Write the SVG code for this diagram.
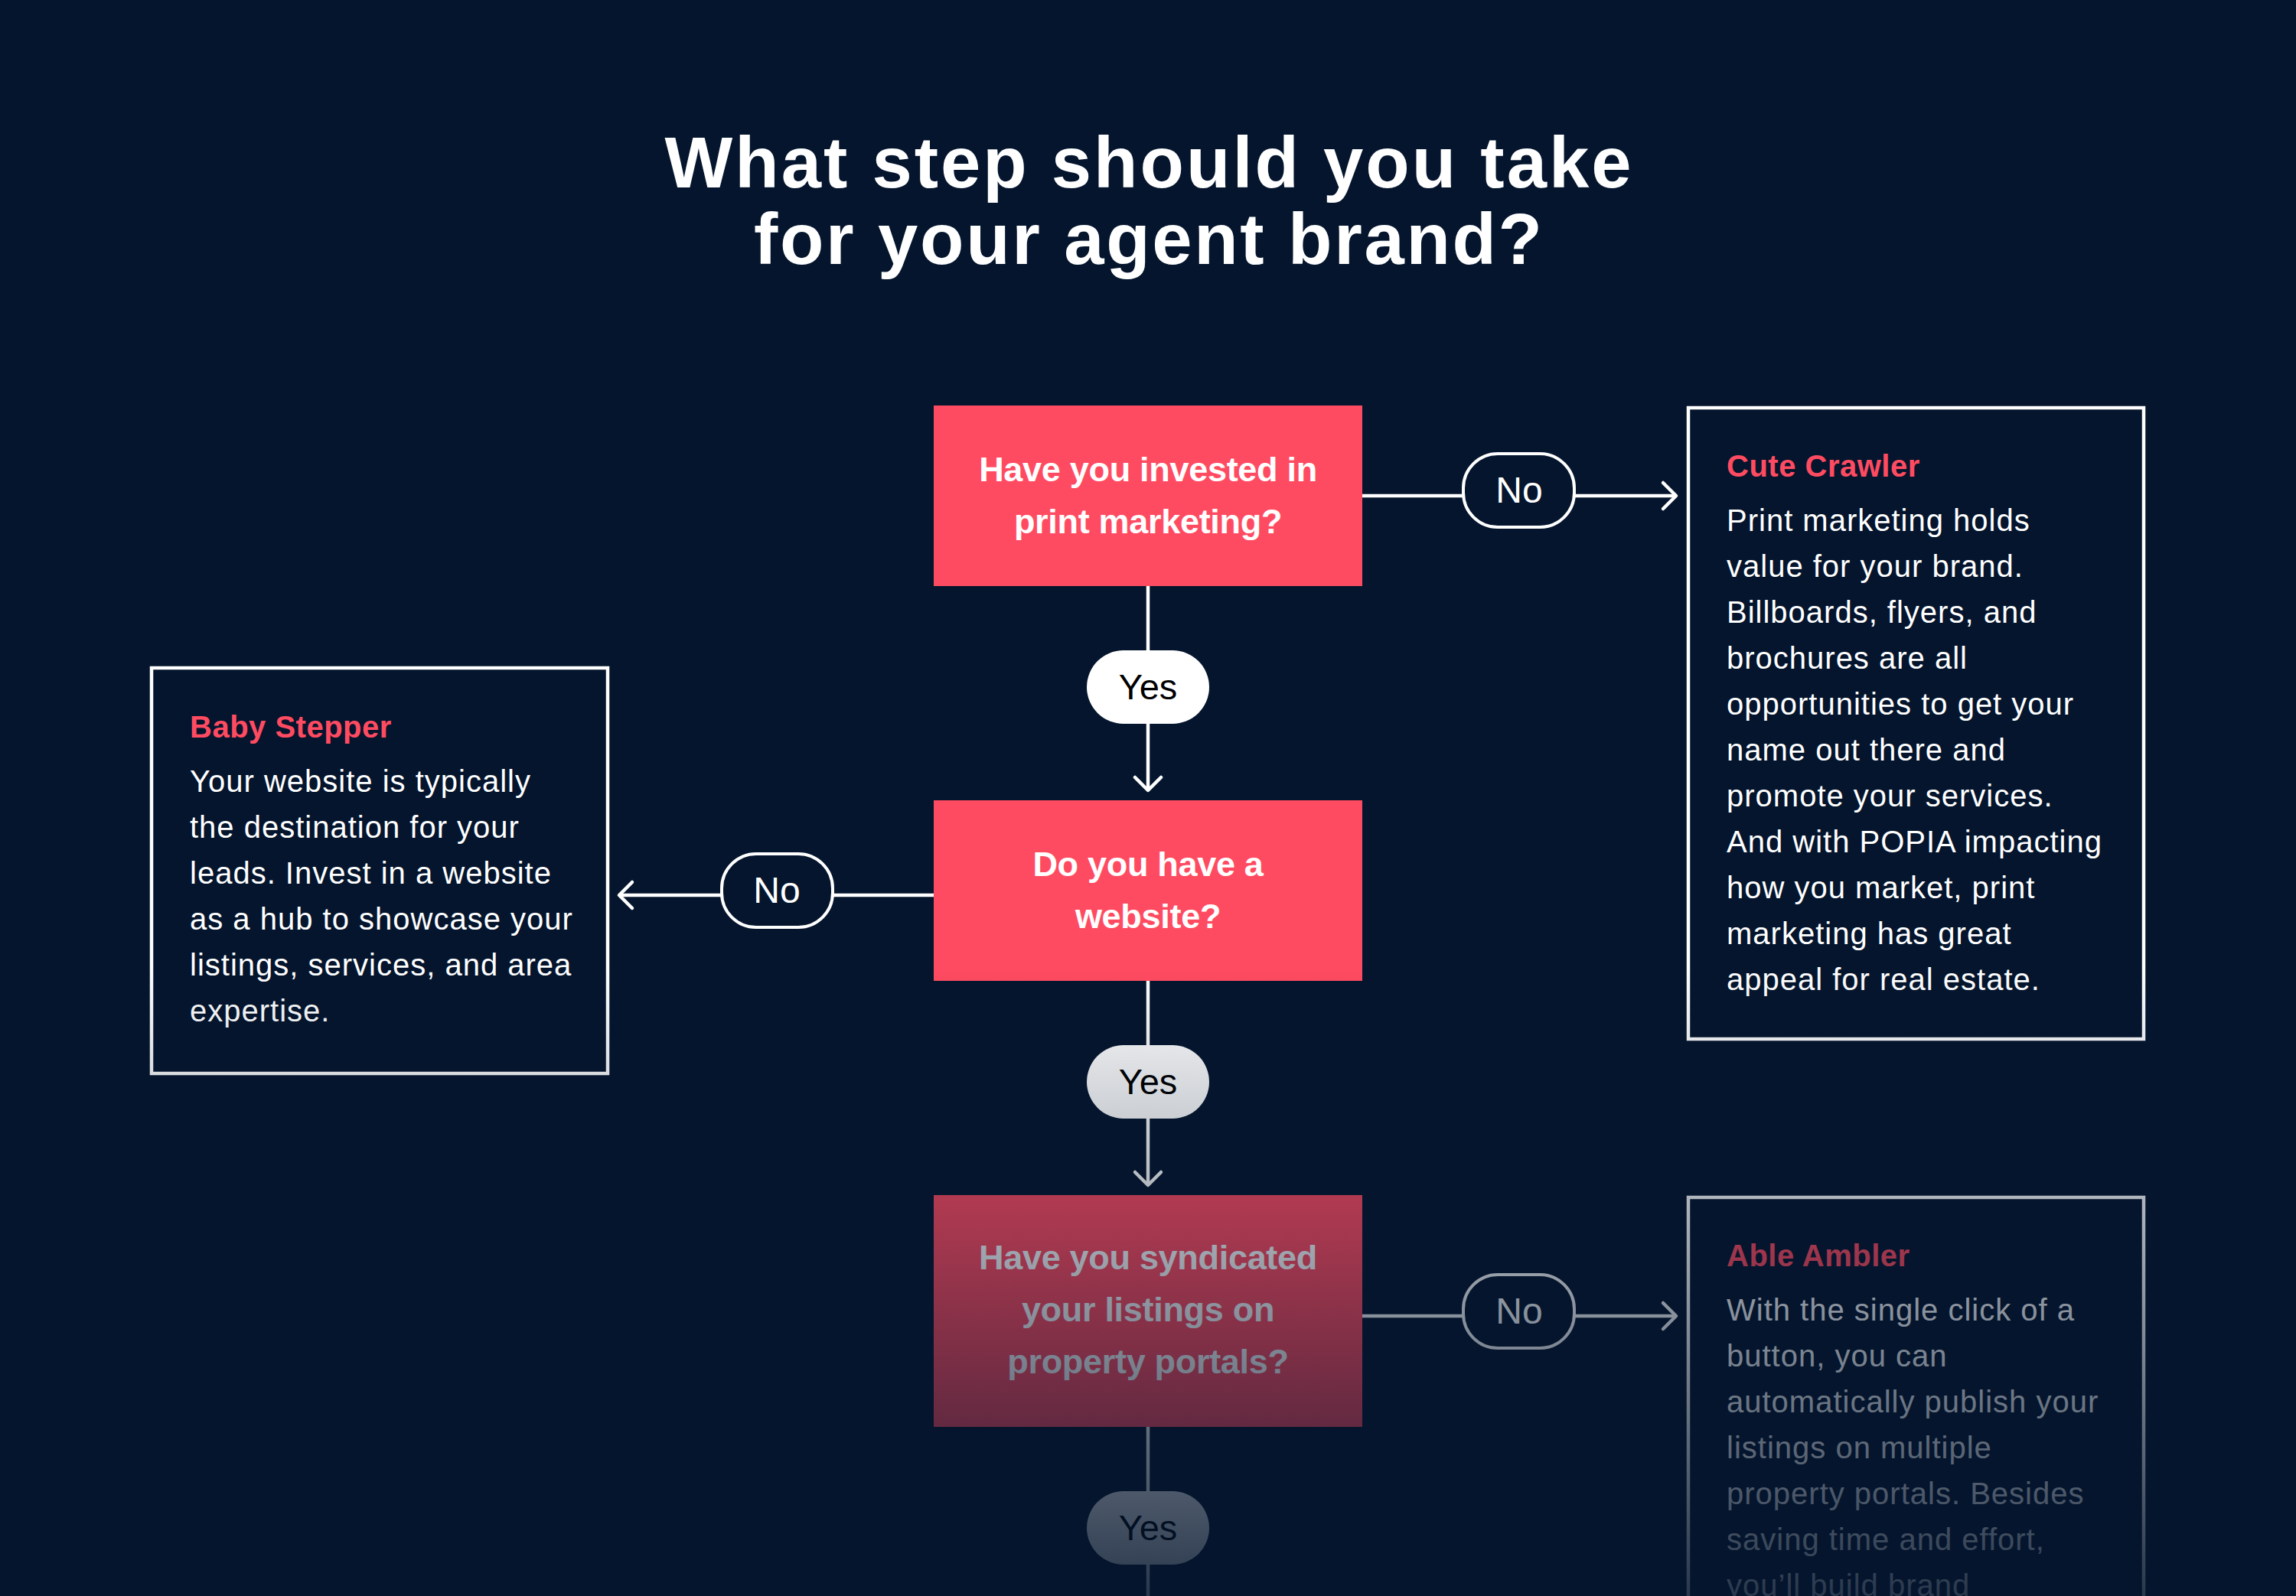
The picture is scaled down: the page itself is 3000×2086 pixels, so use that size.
<svg xmlns="http://www.w3.org/2000/svg" width="3000" height="2086" viewBox="0 0 3000 2086">
  <style>
    .title { font-family: "Liberation Sans", Arial, sans-serif; font-weight: 700; font-size: 94px; fill: #ffffff; text-anchor: middle; }
    .q { fill: #FF4B61; }
    .qt { font-family: "Liberation Sans", Arial, sans-serif; font-weight: 700; font-size: 45px; fill: #ffffff; text-anchor: middle; letter-spacing: -0.3px; }
    .pill { fill: #04152D; stroke: #ffffff; stroke-width: 4; }
    .pillY { fill: #ffffff; }
    .pt { font-family: "Liberation Sans", Arial, sans-serif; font-size: 48px; fill: #ffffff; text-anchor: middle; }
    .ptY { font-family: "Liberation Sans", Arial, sans-serif; font-size: 47px; fill: #000000; text-anchor: middle; }
    .card { fill: #04152D; stroke: #ffffff; stroke-width: 4.5; }
    .ct { font-family: "Liberation Sans", Arial, sans-serif; font-weight: 700; font-size: 40px; fill: #FF4B61; letter-spacing: 0.5px; }
    .cb { font-family: "Liberation Sans", Arial, sans-serif; font-size: 40px; fill: #ffffff; letter-spacing: 1px; }
    .conn { stroke: #ffffff; stroke-width: 4.5; fill: none; }
  </style>
  <defs>
    <marker id="chev" viewBox="-22 -22 26 44" refX="0" refY="0" markerWidth="26" markerHeight="44" markerUnits="userSpaceOnUse" orient="auto">
      <path d="M-17,-17 L0,0 L-17,17" fill="none" stroke="#ffffff" stroke-width="4.5" stroke-linecap="round" stroke-linejoin="round"/>
    </marker>
    <linearGradient id="fade" x1="0" y1="1262" x2="0" y2="2086" gradientUnits="userSpaceOnUse">
      <stop offset="0" stop-color="#04152D" stop-opacity="0"/>
      <stop offset="1" stop-color="#04152D" stop-opacity="0.85"/>
    </linearGradient>
  </defs>

  <rect x="0" y="0" width="3000" height="2086" fill="#04152D"/>

  <g id="title">
    <text class="title" x="1500" y="245" textLength="1263" lengthAdjust="spacing">What step should you take</text>
    <text class="title" x="1500" y="345" textLength="1030" lengthAdjust="spacing">for your agent brand?</text>
  </g>

  <g id="connectors">
    <!-- Q1 no -->
    <line class="conn" x1="1780" y1="648" x2="1912" y2="648"/>
    <line class="conn" x1="2057" y1="648" x2="2190" y2="648" marker-end="url(#chev)"/>
    <!-- Q1 yes -->
    <line class="conn" x1="1500" y1="766" x2="1500" y2="850"/>
    <line class="conn" x1="1500" y1="946" x2="1500" y2="1033" marker-end="url(#chev)"/>
    <!-- Q2 no -->
    <line class="conn" x1="1220" y1="1170" x2="1088" y2="1170"/>
    <line class="conn" x1="943" y1="1170" x2="809" y2="1170" marker-end="url(#chev)"/>
    <!-- Q2 yes -->
    <line class="conn" x1="1500" y1="1282" x2="1500" y2="1366"/>
    <line class="conn" x1="1500" y1="1462" x2="1500" y2="1549" marker-end="url(#chev)"/>
    <!-- Q3 no -->
    <line class="conn" x1="1780" y1="1720" x2="1912" y2="1720"/>
    <line class="conn" x1="2057" y1="1720" x2="2190" y2="1720" marker-end="url(#chev)"/>
    <!-- Q3 yes -->
    <line class="conn" x1="1500" y1="1865" x2="1500" y2="1949"/>
    <line class="conn" x1="1500" y1="2045" x2="1500" y2="2090"/>
  </g>

  <g id="q1">
    <rect class="q" x="1220" y="530" width="560" height="236"/>
    <text class="qt" x="1500" y="629">Have you invested in</text>
    <text class="qt" x="1500" y="697">print marketing?</text>
  </g>

  <g id="q2">
    <rect class="q" x="1220" y="1046" width="560" height="236"/>
    <text class="qt" x="1500" y="1145">Do you have a</text>
    <text class="qt" x="1500" y="1213">website?</text>
  </g>

  <g id="q3">
    <rect class="q" x="1220" y="1562" width="560" height="303"/>
    <text class="qt" x="1500" y="1659">Have you syndicated</text>
    <text class="qt" x="1500" y="1727">your listings on</text>
    <text class="qt" x="1500" y="1795">property portals?</text>
  </g>

  <g id="no1">
    <rect class="pill" x="1912" y="593" width="145" height="96" rx="45" ry="45"/>
    <text class="pt" x="1985" y="657">No</text>
  </g>
  <g id="yes1">
    <rect class="pillY" x="1420" y="850" width="160" height="96" rx="48" ry="48"/>
    <text class="ptY" x="1500" y="914">Yes</text>
  </g>
  <g id="no2">
    <rect class="pill" x="943" y="1116" width="145" height="96" rx="45" ry="45"/>
    <text class="pt" x="1015" y="1180">No</text>
  </g>
  <g id="yes2">
    <rect class="pillY" x="1420" y="1366" width="160" height="96" rx="48" ry="48"/>
    <text class="ptY" x="1500" y="1430">Yes</text>
  </g>
  <g id="no3">
    <rect class="pill" x="1912" y="1666" width="145" height="96" rx="45" ry="45"/>
    <text class="pt" x="1985" y="1730">No</text>
  </g>
  <g id="yes3">
    <rect class="pillY" x="1420" y="1949" width="160" height="96" rx="48" ry="48"/>
    <text class="ptY" x="1500" y="2013">Yes</text>
  </g>

  <g id="cute-crawler">
    <rect class="card" x="2206" y="533" width="595" height="825"/>
    <text class="ct" x="2256" y="623">Cute Crawler</text>
    <text class="cb" x="2256" y="694">Print marketing holds</text>
    <text class="cb" x="2256" y="754">value for your brand.</text>
    <text class="cb" x="2256" y="814">Billboards, flyers, and</text>
    <text class="cb" x="2256" y="874">brochures are all</text>
    <text class="cb" x="2256" y="934">opportunities to get your</text>
    <text class="cb" x="2256" y="994">name out there and</text>
    <text class="cb" x="2256" y="1054">promote your services.</text>
    <text class="cb" x="2256" y="1114">And with POPIA impacting</text>
    <text class="cb" x="2256" y="1174">how you market, print</text>
    <text class="cb" x="2256" y="1234">marketing has great</text>
    <text class="cb" x="2256" y="1294">appeal for real estate.</text>
  </g>

  <g id="baby-stepper">
    <rect class="card" x="198" y="873" width="596" height="530"/>
    <text class="ct" x="248" y="964">Baby Stepper</text>
    <text class="cb" x="248" y="1035">Your website is typically</text>
    <text class="cb" x="248" y="1095">the destination for your</text>
    <text class="cb" x="248" y="1155">leads. Invest in a website</text>
    <text class="cb" x="248" y="1215">as a hub to showcase your</text>
    <text class="cb" x="248" y="1275">listings, services, and area</text>
    <text class="cb" x="248" y="1335">expertise.</text>
  </g>

  <g id="able-ambler">
    <rect class="card" x="2206" y="1565" width="595" height="620"/>
    <text class="ct" x="2256" y="1655">Able Ambler</text>
    <text class="cb" x="2256" y="1726">With the single click of a</text>
    <text class="cb" x="2256" y="1786">button, you can</text>
    <text class="cb" x="2256" y="1846">automatically publish your</text>
    <text class="cb" x="2256" y="1906">listings on multiple</text>
    <text class="cb" x="2256" y="1966">property portals. Besides</text>
    <text class="cb" x="2256" y="2026">saving time and effort,</text>
    <text class="cb" x="2256" y="2086">you’ll build brand</text>
  </g>

  <rect id="fade-overlay" x="0" y="1262" width="3000" height="824" fill="url(#fade)"/>
</svg>
